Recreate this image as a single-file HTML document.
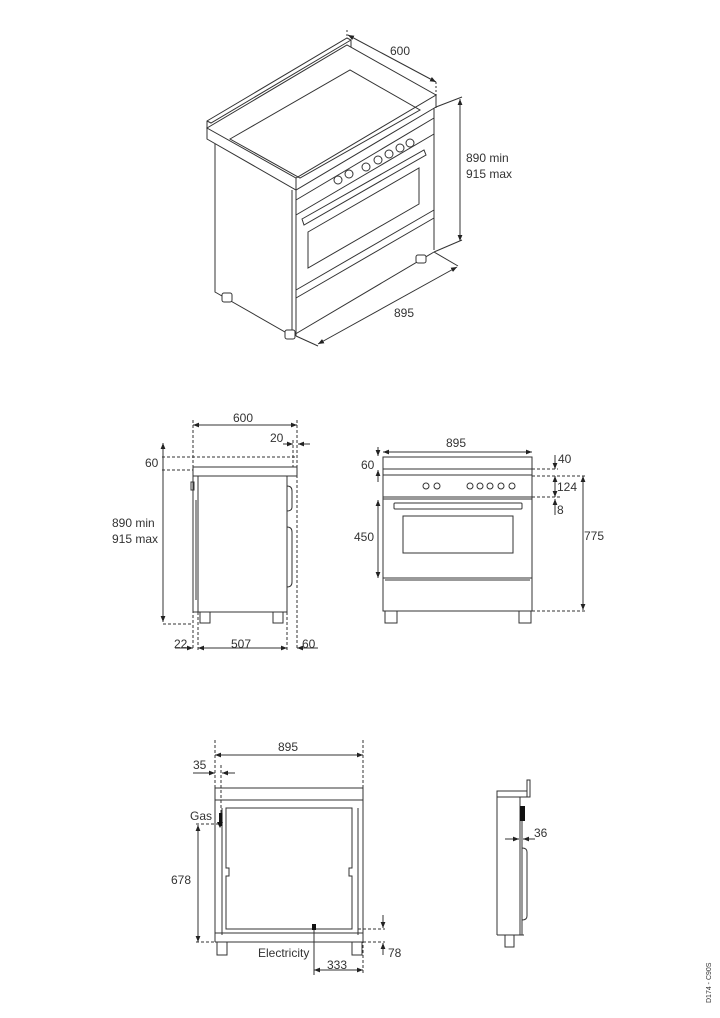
<!DOCTYPE html>
<html><head><meta charset="utf-8"><style>
html,body{margin:0;padding:0;background:#fff}
svg{display:block}
text{font-family:"Liberation Sans",sans-serif;font-size:12px;fill:#333}
</style></head><body>
<svg width="720" height="1018" viewBox="0 0 720 1018" xmlns="http://www.w3.org/2000/svg">
<defs>
<marker id="a" viewBox="0 0 10 10" refX="10" refY="5" markerWidth="6" markerHeight="6" orient="auto-start-reverse"><path d="M0,1 L10,5 L0,9z" fill="#222"/></marker>
</defs>
<g fill="none" stroke="#333" stroke-width="1">
<!-- ISO VIEW -->
<polygon points="207,128 347,45 436,95 296,178" fill="#fff"/>
<polyline points="207,128 207,139 296,190 436,107 436,95"/>
<line x1="296" y1="178" x2="296" y2="190"/>
<polyline points="207,128 207,121 347,38 351,40 351,47"/>
<polyline points="207,121 211,123 351,40"/>
<polygon points="230,139 350,70 420,110 300,178" />
<polyline points="215,144 215,292 292,336 292,190"/>
<line x1="296" y1="190" x2="296" y2="336"/>
<line x1="434" y1="108" x2="434" y2="250"/>
<line x1="292" y1="336" x2="434" y2="252"/>
<line x1="296" y1="200" x2="434" y2="118"/>
<line x1="296" y1="215" x2="434" y2="134"/>
<polygon points="302,219 424,150 426,155 304,225"/>
<polygon points="308,232 419,168 419,204 308,268"/>
<line x1="296" y1="290" x2="434" y2="210"/>
<line x1="296" y1="298" x2="434" y2="218"/>
<g fill="#fff">
<circle cx="338" cy="180" r="4"/><circle cx="349" cy="174" r="4"/>
<circle cx="366" cy="167" r="4"/><circle cx="378" cy="160" r="4"/><circle cx="389" cy="154" r="4"/><circle cx="400" cy="148" r="4"/><circle cx="410" cy="143" r="4"/>
<rect x="222" y="293" width="10" height="9" rx="2"/><rect x="285" y="330" width="10" height="9" rx="2"/><rect x="416" y="255" width="10" height="8" rx="2"/>
</g>
<!-- iso dims -->
<line x1="348" y1="35" x2="436" y2="82" marker-start="url(#a)" marker-end="url(#a)"/>
<line x1="347" y1="30" x2="347" y2="38" stroke-dasharray="2,2"/>
<line x1="436" y1="82" x2="436" y2="108" stroke-dasharray="2,2"/>
<line x1="436" y1="107" x2="462" y2="97"/>
<line x1="460" y1="99" x2="460" y2="241" marker-start="url(#a)" marker-end="url(#a)"/>
<line x1="434" y1="252" x2="462" y2="240"/>
<line x1="434" y1="252" x2="458" y2="266"/>
<line x1="296" y1="336" x2="318" y2="346"/>
<line x1="318" y1="344" x2="457" y2="267" marker-start="url(#a)" marker-end="url(#a)"/>

<!-- SIDE VIEW -->
<rect x="193" y="467" width="104" height="9"/>
<line x1="162" y1="457" x2="297" y2="457" stroke-dasharray="3,2"/>
<line x1="162" y1="470" x2="193" y2="470" stroke-dasharray="3,2"/>
<line x1="193" y1="420" x2="193" y2="650" stroke-dasharray="3,2"/>
<line x1="297" y1="420" x2="297" y2="650" stroke-dasharray="3,2"/>
<line x1="293" y1="440" x2="293" y2="467" stroke-dasharray="3,2"/>
<line x1="193" y1="425" x2="297" y2="425" marker-start="url(#a)" marker-end="url(#a)"/>
<line x1="283" y1="444" x2="293" y2="444" marker-end="url(#a)"/>
<line x1="310" y1="444" x2="298" y2="444" marker-end="url(#a)"/>
<line x1="163" y1="443" x2="163" y2="622" marker-start="url(#a)" marker-end="url(#a)"/>
<line x1="163" y1="624" x2="193" y2="624" stroke-dasharray="3,2"/>
<rect x="198" y="476" width="89" height="136"/>
<line x1="193" y1="476" x2="193" y2="612"/>
<line x1="193" y1="612" x2="198" y2="612"/>
<rect x="191" y="482" width="3" height="8"/>
<path d="M287,486 q5,0 5,5 v16 q0,4 -5,4 M287,527 q5,0 5,5 v50 q0,5 -5,5"/>
<line x1="196" y1="500" x2="196" y2="600"/>
<rect x="200" y="612" width="10" height="11"/><rect x="273" y="612" width="10" height="11"/>
<line x1="198" y1="612" x2="198" y2="650" stroke-dasharray="3,2"/>
<line x1="287" y1="612" x2="287" y2="650" stroke-dasharray="3,2"/>
<line x1="175" y1="648" x2="193" y2="648" marker-end="url(#a)"/>
<line x1="198" y1="648" x2="287" y2="648" marker-start="url(#a)" marker-end="url(#a)"/>
<line x1="318" y1="648" x2="297" y2="648" marker-end="url(#a)"/>

<!-- FRONT VIEW -->
<rect x="383" y="457" width="149" height="154"/>
<line x1="383" y1="469" x2="532" y2="469"/>
<line x1="383" y1="475" x2="532" y2="475"/>
<line x1="383" y1="497" x2="532" y2="497"/>
<line x1="383" y1="499" x2="532" y2="499"/>
<rect x="394" y="503" width="128" height="6" rx="1"/>
<rect x="403" y="516" width="110" height="37"/>
<line x1="383" y1="578" x2="532" y2="578"/>
<line x1="385" y1="580" x2="530" y2="580"/>
<circle cx="426" cy="486" r="3"/><circle cx="437" cy="486" r="3"/>
<circle cx="470" cy="486" r="3"/><circle cx="480" cy="486" r="3"/><circle cx="490" cy="486" r="3"/><circle cx="501" cy="486" r="3"/><circle cx="512" cy="486" r="3"/>
<rect x="385" y="611" width="12" height="12"/><rect x="519" y="611" width="12" height="12"/>
<line x1="383" y1="452" x2="532" y2="452" marker-start="url(#a)" marker-end="url(#a)"/>
<line x1="378" y1="447" x2="378" y2="456" marker-end="url(#a)"/>
<line x1="378" y1="482" x2="378" y2="470" marker-end="url(#a)"/>
<line x1="378" y1="500" x2="378" y2="578" marker-start="url(#a)" marker-end="url(#a)"/>
<line x1="532" y1="469" x2="558" y2="469" stroke-dasharray="3,2"/>
<line x1="532" y1="476" x2="585" y2="476" stroke-dasharray="3,2"/>
<line x1="532" y1="497" x2="560" y2="497" stroke-dasharray="3,2"/>
<line x1="532" y1="611" x2="585" y2="611" stroke-dasharray="3,2"/>
<line x1="555" y1="455" x2="555" y2="469" marker-end="url(#a)"/>
<line x1="555" y1="476" x2="555" y2="497" marker-start="url(#a)" marker-end="url(#a)"/>
<line x1="555" y1="515" x2="555" y2="499" marker-end="url(#a)"/>
<line x1="583" y1="476" x2="583" y2="610" marker-start="url(#a)" marker-end="url(#a)"/>

<!-- BOTTOM VIEW -->
<rect x="215" y="788" width="148" height="12"/>
<line x1="215" y1="800" x2="215" y2="942"/>
<line x1="363" y1="800" x2="363" y2="942"/>
<line x1="222" y1="808" x2="222" y2="935"/>
<line x1="358" y1="808" x2="358" y2="935"/>
<path d="M226,808 H352 V868 h-3 v8 h3 V929 H226 V876 h3 v-8 h-3 Z"/>
<line x1="215" y1="933" x2="363" y2="933"/>
<line x1="215" y1="942" x2="363" y2="942"/>
<rect x="217" y="942" width="10" height="13"/><rect x="352" y="942" width="10" height="13"/>
<line x1="215" y1="740" x2="215" y2="788" stroke-dasharray="3,2"/>
<line x1="363" y1="740" x2="363" y2="975" stroke-dasharray="3,2"/>
<line x1="221" y1="765" x2="221" y2="814" stroke-dasharray="3,2"/>
<line x1="215" y1="755" x2="363" y2="755" marker-start="url(#a)" marker-end="url(#a)"/>
<line x1="193" y1="773" x2="215" y2="773" marker-end="url(#a)"/>
<line x1="235" y1="773" x2="222" y2="773" marker-end="url(#a)"/>
<line x1="198" y1="825" x2="198" y2="942" marker-start="url(#a)" marker-end="url(#a)"/>
<line x1="196" y1="824" x2="222" y2="824" stroke-dasharray="3,2"/>
<line x1="196" y1="942" x2="215" y2="942" stroke-dasharray="3,2"/>
<line x1="314" y1="930" x2="314" y2="975"/>
<line x1="314" y1="970" x2="363" y2="970" marker-start="url(#a)" marker-end="url(#a)"/>
<line x1="358" y1="929" x2="385" y2="929" stroke-dasharray="3,2"/>
<line x1="363" y1="942" x2="385" y2="942" stroke-dasharray="3,2"/>
<line x1="383" y1="915" x2="383" y2="928" marker-end="url(#a)"/>
<line x1="383" y1="955" x2="383" y2="943" marker-end="url(#a)"/>

<!-- SMALL SIDE -->
<rect x="497" y="791" width="30" height="6"/>
<polyline points="527,791 527,780 530,780 530,797 527,797"/>
<line x1="497" y1="797" x2="497" y2="935"/>
<line x1="520" y1="797" x2="520" y2="935"/>
<line x1="497" y1="935" x2="524" y2="935"/>
<path d="M522,848 q5,0 5,4 v64 q0,4 -5,4"/>
<rect x="505" y="935" width="9" height="12"/>
<line x1="522" y1="820" x2="522" y2="935"/>
<line x1="505" y1="839" x2="519" y2="839" marker-end="url(#a)"/>
<line x1="535" y1="839" x2="523" y2="839" marker-end="url(#a)"/>
</g>
<g fill="#111">
<rect x="219" y="813" width="3.5" height="13"/>
<rect x="312" y="924" width="4" height="6"/>
<rect x="520" y="806" width="5" height="15"/>
</g>
<path d="M220,822 l-3,0 l3,6 l3,-6z" fill="#111"/>
<!-- TEXT -->
<text x="390" y="55">600</text>
<text x="466" y="162">890 min</text>
<text x="466" y="178">915 max</text>
<text x="394" y="317">895</text>
<text x="233" y="422">600</text>
<text x="270" y="442">20</text>
<text x="145" y="467">60</text>
<text x="112" y="527">890 min</text>
<text x="112" y="543">915 max</text>
<text x="174" y="648">22</text>
<text x="231" y="648">507</text>
<text x="302" y="648">60</text>
<text x="446" y="447">895</text>
<text x="361" y="469">60</text>
<text x="558" y="463">40</text>
<text x="557" y="491">124</text>
<text x="557" y="514">8</text>
<text x="584" y="540">775</text>
<text x="354" y="541">450</text>
<text x="278" y="751">895</text>
<text x="193" y="769">35</text>
<text x="190" y="820">Gas</text>
<text x="171" y="884">678</text>
<text x="258" y="957">Electricity</text>
<text x="327" y="969">333</text>
<text x="388" y="957">78</text>
<text x="534" y="837">36</text>
<text x="0" y="0" transform="translate(711,1003) rotate(-90)" style="font-size:7px">D174 - C90S</text>
</svg>
</body></html>
